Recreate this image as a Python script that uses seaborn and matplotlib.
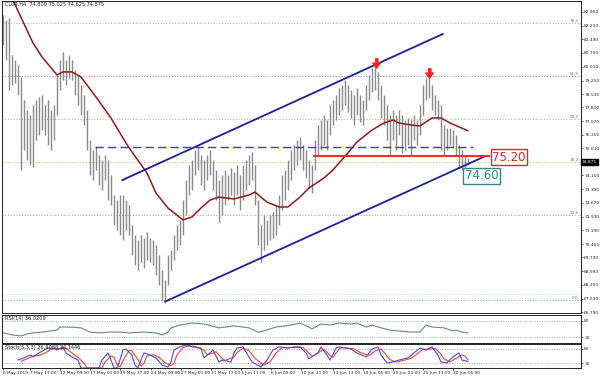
import matplotlib
matplotlib.use("Agg")
import matplotlib.pyplot as plt
import matplotlib.transforms as mtransforms
import pandas as pd
import seaborn as sns

# H4 bars, high / low per bar (bar index 0..155)
bar_high = [
    82.79, 82.52, 82.63, 80.63, 80.36, 80.09, 79.45, 78.21, 77.67, 77.40,
    77.94, 78.21, 78.37, 78.48, 77.94, 78.21, 77.67, 77.94, 79.56, 80.36,
    80.79, 80.36, 80.63, 80.36, 79.83, 79.56, 79.02, 78.48, 77.67, 76.05,
    75.52, 75.74, 75.25, 74.98, 75.25, 74.98, 74.17, 73.09, 72.82, 73.09,
    73.09, 72.82, 72.55, 71.48, 70.94, 70.67, 70.94, 70.78, 71.10, 70.78,
    70.67, 70.40, 69.86, 69.05, 68.51, 69.86, 70.13, 70.94, 71.48, 71.75,
    72.82, 73.90, 74.71, 74.98, 75.52, 75.68, 75.25, 74.98, 75.25, 75.52,
    74.98, 74.44, 73.90, 74.17, 74.44, 74.17, 74.55, 74.33, 74.71, 74.17,
    74.71, 74.98, 75.25, 75.41, 74.71, 72.82, 71.48, 72.01, 71.75, 72.01,
    72.17, 72.55, 73.09, 74.17, 74.44, 74.98, 75.52, 75.79, 76.05, 76.21,
    75.79, 75.52, 74.98, 74.71, 76.05, 76.86, 77.13, 77.40, 77.13, 77.94,
    78.21, 78.48, 78.86, 79.02, 79.29, 79.02, 78.75, 78.48, 78.86, 78.48,
    78.21, 79.02, 79.56, 79.94, 80.04, 79.72, 79.02, 78.48, 77.94, 77.40,
    77.67, 77.40, 77.67, 77.40, 77.13, 77.24, 77.13, 77.40, 77.13, 77.94,
    79.02, 79.40, 79.51, 79.02, 78.48, 78.21, 77.94, 76.86, 76.70, 76.70,
    76.59, 76.32, 75.79, 75.52, 75.25, 75.09,
]
bar_low = [
    81.17, 80.36, 78.75, 79.02, 79.13, 78.48, 74.44, 75.52, 74.98, 74.71,
    74.60, 76.05, 76.32, 76.59, 76.32, 75.79, 75.52, 76.05, 77.40, 78.75,
    79.29, 79.02, 79.40, 79.29, 78.48, 77.94, 77.40, 76.86, 75.52, 74.17,
    73.90, 74.44, 73.63, 73.36, 73.90, 72.82, 72.55, 71.48, 71.21, 70.94,
    70.67, 71.21, 70.94, 69.86, 69.32, 69.05, 69.48, 69.16, 69.59, 69.48,
    69.32, 68.78, 68.24, 67.43, 67.27, 68.24, 69.05, 69.59, 70.13, 70.40,
    70.94, 72.01, 73.09, 73.36, 74.17, 74.44, 73.63, 73.36, 73.90, 74.17,
    73.36, 72.82, 71.64, 72.01, 72.55, 72.82, 73.09, 72.55, 73.09, 72.28,
    72.82, 73.36, 73.63, 73.90, 72.55, 70.40, 69.48, 70.13, 70.40, 70.67,
    70.78, 70.94, 71.48, 72.28, 72.82, 73.36, 73.90, 74.44, 74.71, 74.98,
    74.44, 74.01, 73.47, 73.20, 74.44, 75.25, 75.52, 75.79, 75.52, 76.32,
    76.86, 77.13, 77.40, 77.67, 77.94, 77.56, 77.24, 76.86, 77.40, 77.02,
    76.86, 77.67, 78.21, 78.64, 78.75, 78.21, 77.24, 76.86, 76.05, 75.25,
    76.05, 75.52, 76.32, 75.36, 75.52, 75.79, 75.25, 76.05, 75.79, 76.32,
    77.40, 78.21, 78.32, 77.67, 77.40, 77.13, 75.52, 75.25, 75.52, 75.79,
    75.63, 75.25, 74.55, 74.44, 74.55, 74.71,
]

# moving average
ma_bar = [3, 10, 13, 18, 20, 23, 26, 31, 36, 41, 43, 48, 51, 55, 60, 63, 66, 69, 72, 77,
          82, 84, 88, 92, 95, 99, 102, 107, 110, 115, 118, 123, 127, 130, 132, 136, 139,
          143, 146, 149, 155]
ma_value = [83.70, 81.28, 80.53, 79.56, 79.72, 79.72, 79.45, 78.37, 77.24, 75.89, 75.41,
            74.28, 73.20, 72.39, 71.75, 71.91, 72.39, 72.82, 72.98, 72.88, 73.09, 73.25,
            72.71, 72.45, 72.45, 72.98, 73.47, 74.01, 74.44, 75.36, 75.95, 76.59, 76.97,
            77.13, 76.97, 76.86, 76.81, 77.24, 77.24, 76.97, 76.55]

# RSI(14)
rsi_bar = [0, 3, 6, 8, 10, 13, 18, 19, 22, 26, 29, 32, 36, 39, 42, 47, 51, 53, 55, 56, 59,
           63, 67, 71, 72, 77, 82, 85, 87, 91, 96, 99, 102, 103, 106, 109, 112, 116, 118,
           121, 123, 126, 129, 132, 136, 139, 141, 143, 147, 150, 151, 153, 155]
rsi_value = [36, 29, 25, 32, 36, 39, 46, 57, 57, 54, 39, 36, 39, 39, 36, 39, 36, 29, 39, 54,
             64, 71, 68, 57, 54, 61, 54, 39, 43, 57, 64, 71, 57, 50, 68, 64, 71, 68, 71, 57,
             64, 54, 46, 43, 39, 39, 64, 57, 54, 43, 46, 39, 36]

# Stochastic(5,3,3): main and signal
stoch_main_bar = [5, 7, 9, 10, 12, 15, 17, 18, 20, 21, 23, 25, 26, 32, 33, 35, 36, 37, 38, 39,
                  40, 41, 43, 44, 45, 46, 47, 49, 51, 53, 55, 56, 57, 59, 61, 63, 66, 67, 69,
                  70, 72, 73, 76, 77, 78, 80, 83, 86, 88, 90, 92, 95, 97, 99, 101, 102, 105,
                  106, 108, 109, 111, 112, 116, 118, 121, 123, 125, 126, 128, 130, 132, 135,
                  137, 139, 141, 143, 145, 146, 148, 150, 152, 153, 155]
stoch_main = [33, 42, 54, 46, 63, 83, 83, 75, 88, 63, 46, 33, 0, 0, 33, 63, 33, 0, 0, 33,
              75, 79, 54, 12, 0, 33, 63, 54, 42, 12, 4, 25, 75, 88, 96, 88, 83, 42, 63, 75,
              25, 33, 25, 63, 83, 88, 25, 4, 33, 75, 88, 83, 88, 88, 63, 38, 63, 88, 54, 33,
              83, 88, 79, 63, 46, 79, 88, 54, 21, 25, 33, 42, 63, 83, 75, 88, 54, 25, 21, 46,
              63, 33, 27]
stoch_signal_bar = [6, 8, 10, 12, 14, 16, 18, 19, 21, 23, 25, 27, 28, 33, 34, 36, 37, 38, 39,
                    40, 42, 43, 45, 46, 47, 48, 50, 52, 54, 56, 57, 58, 60, 62, 64, 67, 68, 70,
                    71, 73, 74, 77, 78, 80, 82, 84, 87, 89, 91, 93, 96, 98, 100, 102, 103, 106,
                    107, 109, 110, 112, 113, 117, 119, 122, 124, 126, 127, 129, 131, 133, 136,
                    138, 140, 142, 144, 146, 147, 149, 151, 153, 154, 155]
stoch_signal = [28, 38, 50, 52, 62, 78, 82, 80, 82, 62, 45, 20, 0, 0, 25, 50, 45, 15, 5, 30,
                72, 72, 35, 8, 20, 50, 55, 45, 22, 10, 20, 55, 85, 93, 90, 75, 55, 62, 68, 40,
                32, 45, 65, 82, 72, 40, 12, 25, 62, 85, 85, 86, 85, 62, 48, 70, 78, 52, 45, 78,
                85, 80, 65, 52, 70, 80, 65, 35, 25, 30, 40, 58, 78, 78, 82, 58, 38, 25, 40, 55,
                50, 34]

# analyst drawings
channel_upper_bar = [39.7, 146.7]
channel_upper_price = [73.89, 81.77]
channel_lower_bar = [54.0, 160.7]
channel_lower_price = [67.35, 75.18]
resistance_price = 75.68
resistance_bars = [30.7, 156.7]
support_price = 75.20
support_bars = [103.3, 162.3]
top_bars = [124.3, 142.0]
top_prices = [80.20, 79.66]

fib_levels = ["76.4", "61.8", "50.0", "38.2", "23.6", "0.0"]
fib_prices = [82.34, 79.49, 77.19, 74.88, 72.03, 67.43]
fib_colors = ["#a9c49c", "#8f9cc4", "#c9b97a", "#c9c46e", "#d9a184", "#9aaac8"]

price_ticks = [82.950, 82.210, 81.490, 80.750, 80.010, 79.250, 78.530, 77.810, 77.070,
               76.350, 75.610, 74.150, 73.390, 72.670, 71.930, 71.190, 70.450, 69.730,
               68.990, 68.250, 67.510, 66.790]
last_price = 74.875

date_bars = [0, 9, 19, 29, 39, 49.5, 59.5, 69.5, 79.5, 89.5, 99.5, 110, 120, 130, 140, 150]
date_labels = ["6 May 2019", "7 May 17:00", "12 May 09:00", "17 May 01:00", "19 May 17:00",
               "24 May 09:00", "27 May 01:00", "31 May 17:00", "3 Jun 11:00", "6 Jun 09:00",
               "10 Jun 21:00", "13 Jun 13:00", "18 Jun 05:00", "20 Jun 21:00",
               "25 Jun 13:00", "30 Jun 05:00"]


def main() -> None:
    sns.set_style("white")
    plt.rcParams["font.family"] = ["DejaVu Sans"]

    fig = plt.figure(figsize=(6.0, 3.76), dpi=100)
    ax = fig.add_axes([0.0033, 0.1676, 0.965, 0.8298])
    ax_rsi = fig.add_axes([0.0033, 0.0878, 0.965, 0.0745])
    ax_st = fig.add_axes([0.0033, 0.0213, 0.965, 0.0638])

    xlim = (-0.33, 192.67)
    ysize = 3.2
    xsize = 3.05

    # price bars
    bars = pd.DataFrame({"bar": range(len(bar_high)), "high": bar_high, "low": bar_low})
    ax.vlines(bars["bar"], bars["low"], bars["high"], color="#8a8a8a", linewidth=1.0)

    # fibonacci levels
    right = mtransforms.blended_transform_factory(ax.transAxes, ax.transData)
    for lvl, price, col in zip(fib_levels, fib_prices, fib_colors):
        ax.axhline(price, color=col, linestyle=(0, (1, 1.5)), linewidth=0.8, zorder=0)
        ax.text(0.996, price, lvl, transform=right, ha="right", va="bottom",
                fontsize=3.0, color="#777777")
    ax.axhline(67.76, color="#d4eaf2", linestyle=(0, (3, 2)), linewidth=0.7, zorder=0)

    # moving average
    sns.lineplot(x=ma_bar, y=ma_value, ax=ax, color="#8b1c1c", linewidth=1.1)

    # channel, levels, markers
    ax.plot(channel_upper_bar, channel_upper_price, color="#1f1f99", linewidth=1.3)
    ax.plot(channel_lower_bar, channel_lower_price, color="#1f1f99", linewidth=1.3)
    ax.hlines(resistance_price, *resistance_bars, colors="#3344b0",
              linestyles=(0, (6, 3)), linewidth=1.0)
    ax.hlines(support_price, *support_bars, colors="#ff2424", linewidth=1.4)
    arrow = [(-0.3, 1), (0.3, 1), (0.3, 0.1), (0.8, 0.1), (0, -1), (-0.8, 0.1), (-0.3, 0.1)]
    ax.scatter(top_bars, top_prices, marker=arrow, s=45, color="#ff2020", zorder=5)

    ax.text(168.7, 75.12, "75.20", ha="center", va="center", fontsize=8.5, color="#e8202a",
            bbox=dict(boxstyle="square,pad=0.12", fc="white", ec="#e8202a", lw=1.0), zorder=6)
    ax.text(159.5, 74.13, "74.60", ha="center", va="center", fontsize=8.5, color="#2e8b8b",
            bbox=dict(boxstyle="square,pad=0.12", fc="white", ec="#2e8b8b", lw=1.0), zorder=6)

    ax.text(0.006, 0.997, "CLU9,H4  74.809 75.025 74.625 74.875", transform=ax.transAxes,
            ha="left", va="top", fontsize=3.6, color="#222222")

    ax.set_xlim(*xlim)
    ax.set_ylim(66.74, 83.54)
    ax.yaxis.tick_right()
    ax.set_yticks(price_ticks)
    ax.set_yticklabels([f"{v:.3f}" for v in price_ticks])
    ax.tick_params(axis="y", labelsize=ysize, length=1.5, width=0.5, pad=0.8, right=True)
    ax.tick_params(axis="x", bottom=False, labelbottom=False)
    ax.set_xlabel("")
    ax.set_ylabel("")
    ax.text(1.001, last_price, "74.875", transform=right, ha="left", va="center",
            fontsize=ysize, color="white",
            bbox=dict(boxstyle="square,pad=0.2", fc="black", ec="black"))

    # RSI panel
    sns.lineplot(x=rsi_bar, y=rsi_value, ax=ax_rsi, color="#5f9070", linewidth=0.8)
    ax_rsi.text(0.006, 0.95, "RSI(14) 36.0209", transform=ax_rsi.transAxes,
                ha="left", va="top", fontsize=3.6, color="#222222")

    # Stochastic panel
    sns.lineplot(x=stoch_signal_bar, y=stoch_signal, ax=ax_st, color="#e8473a", linewidth=0.8)
    sns.lineplot(x=stoch_main_bar, y=stoch_main, ax=ax_st, color="#4a4ad8", linewidth=0.8)
    ax_st.text(0.006, 0.95, "Stoch(5,3,3) 26.9088 34.1446", transform=ax_st.transAxes,
               ha="left", va="top", fontsize=3.6, color="#222222")

    for sub in (ax_rsi, ax_st):
        for lvl in (80, 20):
            sub.axhline(lvl, color="#a3ab9f", linestyle=(0, (1, 1.5)), linewidth=0.7, zorder=0)
        sub.set_xlim(*xlim)
        sub.set_ylim(0, 100)
        sub.yaxis.tick_right()
        sub.set_yticks([20, 80])
        sub.set_yticklabels(["20", "80"])
        sub.tick_params(axis="y", labelsize=ysize, length=1.5, width=0.5, pad=0.8, right=True)
        sub.set_xlabel("")
        sub.set_ylabel("")

    ax_rsi.tick_params(axis="x", bottom=False, labelbottom=False)
    ax_st.set_xticks(date_bars)
    ax_st.set_xticklabels(date_labels, ha="left")
    ax_st.tick_params(axis="x", labelsize=xsize, length=1.5, width=0.5, pad=0.5, bottom=True)

    for a in (ax, ax_rsi, ax_st):
        for sp in a.spines.values():
            sp.set_color("#222222")
            sp.set_linewidth(0.7)

    fig.savefig("out.png", dpi=100)
    plt.close(fig)


if __name__ == "__main__":
    main()
